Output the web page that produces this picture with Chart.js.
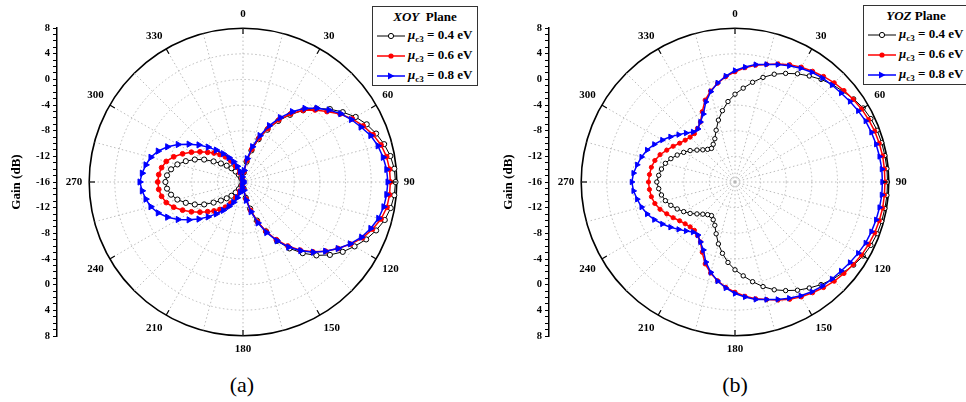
<html>
<head>
<script src="https://cdn.jsdelivr.net/npm/chart.js@4/dist/chart.umd.min.js"></script>
<style>
body { margin:0; width:966px; height:402px; overflow:hidden; background:#fff; font-family:"Liberation Serif", serif; position:relative; }
canvas { position:absolute; }
.legend { position:absolute; border:1.5px solid #333; background:#fff; font-weight:bold; font-size:13px; color:#000; box-sizing:border-box; white-space:nowrap; }
.legend .ttl { text-align:center; height:16px; line-height:16px; margin-top:2px; }
.legend .row { height:20px; line-height:20px; }
.legend svg { vertical-align:middle; margin-right:3px; }
.legend sub { font-size:9px; vertical-align:-3px; line-height:0; }
.cap { position:absolute; font-size:22px; width:60px; text-align:center; top:372px; }
</style>
</head>
<body>
<canvas id="axA" width="62" height="402" style="left:0;top:0"></canvas>
<canvas id="polA" width="400" height="349" style="left:43px;top:8px"></canvas>
<canvas id="axB" width="62" height="402" style="left:492px;top:0"></canvas>
<canvas id="polB" width="400" height="349" style="left:535px;top:8px"></canvas>

<div class="legend" style="left:372px;top:6px;width:106px;height:80px">
  <div class="ttl"><i>XOY</i>&nbsp; Plane</div>
  <div class="row" style="padding-left:4px"><svg width="28" height="10"><line x1="0" y1="5" x2="28" y2="5" stroke="#000" stroke-width="1"/><circle cx="14" cy="5" r="2.6" fill="#fff" stroke="#000" stroke-width="1"/></svg><i>μ</i><sub>c3</sub> = 0.4 eV</div>
  <div class="row" style="padding-left:4px"><svg width="28" height="10"><line x1="0" y1="5" x2="28" y2="5" stroke="#f00" stroke-width="1.5"/><circle cx="14" cy="5" r="2.6" fill="#f00"/></svg><i>μ</i><sub>c3</sub> = 0.6 eV</div>
  <div class="row" style="padding-left:4px"><svg width="28" height="10"><line x1="0" y1="5" x2="28" y2="5" stroke="#00f" stroke-width="1.5"/><polygon points="11,1.5 17.5,5 11,8.5" fill="#00f"/></svg><i>μ</i><sub>c3</sub> = 0.8 eV</div>
</div>
<div class="legend" style="left:863px;top:5px;width:106px;height:80px">
  <div class="ttl"><i>YOZ</i> Plane</div>
  <div class="row" style="padding-left:4px"><svg width="28" height="10"><line x1="0" y1="5" x2="28" y2="5" stroke="#000" stroke-width="1"/><circle cx="14" cy="5" r="2.6" fill="#fff" stroke="#000" stroke-width="1"/></svg><i>μ</i><sub>c3</sub> = 0.4 eV</div>
  <div class="row" style="padding-left:4px"><svg width="28" height="10"><line x1="0" y1="5" x2="28" y2="5" stroke="#f00" stroke-width="1.5"/><circle cx="14" cy="5" r="2.6" fill="#f00"/></svg><i>μ</i><sub>c3</sub> = 0.6 eV</div>
  <div class="row" style="padding-left:4px"><svg width="28" height="10"><line x1="0" y1="5" x2="28" y2="5" stroke="#00f" stroke-width="1.5"/><polygon points="11,1.5 17.5,5 11,8.5" fill="#00f"/></svg><i>μ</i><sub>c3</sub> = 0.8 eV</div>
</div>
<div class="cap" style="left:212px">(a)</div>
<div class="cap" style="left:705px">(b)</div>

<script>
// angles in degrees, 0 at top, clockwise, 5 deg step
var angles = [0,5,10,15,20,25,30,35,40,45,50,55,60,65,70,75,80,85,
  90,95,100,105,110,115,120,125,130,135,140,145,150,155,160,165,170,175,
  180,185,190,195,200,205,210,215,220,225,230,235,240,245,250,255,260,265,
  270,275,280,285,290,295,300,305,310,315,320,325,330,335,340,345,350,355];
var angleLabels = ['0','30','60','90','120','150','180','210','240','270','300','330'];
var gainTicks = ['8','4','0','-4','-8','-12','-16','-12','-8','-4','0','4','8'];
var seriesNames = ['0.4 eV','0.6 eV','0.8 eV'];

// (a) XOY plane, gain in dB
var xoy04 = [-16,-14.5,-12.8,-10.9,-8.9,-7.0,-5.0,-3.2,-1.4,0.2,1.7,3.0,4.3,5.3,6.1,6.8,7.35,7.7,
  7.8,7.7,7.4,6.9,6.1,5.2,4.1,3.0,1.7,0.2,-1.5,-3.35,-5.4,-7.5,-9.6,-11.7,-13.5,-15.0,
  -16,-16,-16,-16,-15.8,-15.3,-14.7,-14.0,-13.2,-12.4,-11.5,-10.4,-9.0,-7.7,-6.5,-5.4,-4.6,-4.1,
  -3.9,-4.1,-4.6,-5.4,-6.5,-7.7,-9.0,-10.4,-11.5,-12.4,-13.2,-14.0,-14.7,-15.3,-15.8,-16,-16,-16];
var xoy06 = [-16,-14.4,-12.6,-10.7,-8.7,-6.8,-4.8,-3.0,-1.4,-0.1,1.1,2.5,3.7,4.7,5.6,6.3,6.75,6.95,
  7.0,6.95,6.8,6.3,5.5,4.6,3.4,2.1,0.8,-0.6,-2.1,-3.8,-5.6,-7.5,-9.4,-11.4,-13.3,-14.9,
  -16,-16,-16,-15.4,-14.5,-13.3,-12.2,-11.2,-10.4,-9.6,-8.8,-7.8,-6.7,-5.6,-4.5,-3.6,-3.1,-2.8,
  -2.7,-2.8,-3.1,-3.6,-4.5,-5.6,-6.7,-7.8,-8.8,-9.6,-10.4,-11.2,-12.2,-13.3,-14.5,-15.4,-16,-16];
var xoy08 = [-16,-14.2,-12.3,-10.3,-8.3,-6.3,-4.4,-2.6,-1.0,0.3,1.5,2.6,3.5,4.3,5.2,5.8,6.2,6.5,
  6.6,6.5,6.3,5.9,5.2,4.4,3.3,2.1,0.8,-0.5,-2.0,-3.6,-5.4,-7.3,-9.2,-11.2,-13.1,-14.7,
  -16,-15.8,-15.2,-14.3,-13.4,-12.5,-11.6,-10.6,-9.5,-8.3,-7.0,-5.7,-4.3,-3.0,-1.9,-1.1,-0.6,-0.2,
  0.1,-0.2,-0.6,-1.1,-1.9,-3.0,-4.3,-5.7,-7.0,-8.3,-9.5,-10.6,-11.6,-12.5,-13.4,-14.3,-15.2,-15.8];

// (b) YOZ plane, gain in dB
var yoz04 = [-2.3,-1.3,-0.2,0.9,1.9,2.7,3.5,4.2,4.9,5.5,6.0,6.6,7.1,7.4,7.6,7.7,7.75,7.8,
  7.8,7.8,7.75,7.7,7.6,7.4,7.1,6.6,6.0,5.5,4.9,4.2,3.5,2.7,1.9,0.9,-0.2,-1.3,
  -2.3,-3.4,-4.7,-6.0,-7.4,-8.55,-9.2,-9.6,-9.35,-8.9,-8.25,-7.45,-6.75,-6.05,-5.35,-4.75,-4.35,-4.05,
  -3.8,-4.05,-4.35,-4.75,-5.35,-6.05,-6.75,-7.45,-8.25,-8.9,-9.35,-9.6,-9.2,-8.55,-7.4,-6.0,-4.7,-3.4];
var yoz06 = [1.2,1.9,2.5,3.0,3.6,4.2,4.7,5.1,5.5,5.9,6.2,6.5,6.8,7.0,7.2,7.3,7.4,7.4,
  7.4,7.4,7.4,7.3,7.2,7.0,6.8,6.5,6.2,5.9,5.5,5.1,4.7,4.2,3.6,3.0,2.5,1.9,
  1.2,0.5,-0.35,-1.3,-2.4,-3.9,-5.2,-5.8,-6.15,-6.1,-5.85,-5.45,-4.85,-4.25,-3.55,-3.05,-2.75,-2.6,
  -2.5,-2.6,-2.75,-3.05,-3.55,-4.25,-4.85,-5.45,-5.85,-6.1,-6.15,-5.8,-5.2,-3.9,-2.4,-1.3,-0.35,0.5];
var yoz08 = [1.4,2.0,2.6,3.0,3.5,4.0,4.5,4.9,5.2,5.4,5.6,5.9,6.2,6.5,6.65,6.8,6.9,7.0,
  7.0,7.0,6.9,6.8,6.65,6.5,6.2,5.9,5.6,5.4,5.2,4.9,4.5,4.0,3.5,3.0,2.6,2.0,
  1.4,0.6,-0.3,-1.4,-2.7,-4.3,-5.2,-5.9,-5.8,-5.2,-4.5,-3.7,-2.9,-2.1,-1.4,-0.9,-0.5,-0.1,
  0.1,-0.1,-0.5,-0.9,-1.4,-2.1,-2.9,-3.7,-4.5,-5.2,-5.8,-5.9,-5.2,-4.3,-2.7,-1.4,-0.3,0.6];

Chart.defaults.font.family = '"Liberation Serif", serif';

var dotted = [1.5, 2.5];
var gridGray = '#b4b4b4';

// short black ticks on the outer ring at every labelled angle
var ringTicks = {
  id: 'ringTicks',
  afterDatasetsDraw: function(chart) {
    var s = chart.scales.r, ctx = chart.ctx;
    ctx.save();
    ctx.strokeStyle = '#000';
    ctx.lineWidth = 1.2;
    angles.forEach(function(a, i) {
      if (angleLabels.indexOf(String(a)) < 0) return;
      var p1 = s.getPointPositionForValue(i, s.max);
      var p2 = s.getPointPositionForValue(i, s.max - 0.9);
      ctx.beginPath();
      ctx.moveTo(p1.x, p1.y);
      ctx.lineTo(p2.x, p2.y);
      ctx.stroke();
    });
    ctx.restore();
  }
};

function makeSets(vals, size) {
  return [
    {label: seriesNames[0], data: vals[0], order: 2, borderColor: '#000', borderWidth: 1,
     pointStyle: 'circle', pointRadius: size[0], pointBackgroundColor: '#fff', pointBorderColor: '#000', pointBorderWidth: 1},
    {label: seriesNames[1], data: vals[1], order: 1, borderColor: '#f00', borderWidth: 1.5,
     pointStyle: 'circle', pointRadius: size[1], pointBackgroundColor: '#f00', pointBorderColor: '#f00', pointBorderWidth: 1},
    {label: seriesNames[2], data: vals[2], order: 0, borderColor: '#00f', borderWidth: 1.5,
     pointStyle: 'triangle', pointRotation: 90, pointRadius: size[2], pointBackgroundColor: '#00f', pointBorderColor: '#00f', pointBorderWidth: 1}
  ];
}

function polar(id, vals, size) {
  new Chart(document.getElementById(id), {
    type: 'radar',
    data: {labels: angles, datasets: makeSets(vals, size)},
    plugins: [ringTicks],
    options: {
      responsive: false, animation: false, events: [],
      layout: {padding: 0},
      elements: {line: {fill: false, tension: 0}},
      plugins: {legend: {display: false}, tooltip: {enabled: false}},
      scales: {
        r: {
          min: -16, max: 8,
          ticks: {display: false, stepSize: 4},
          grid: {
            circular: true,
            color: function(c) { return c.tick.value === 8 ? '#000' : gridGray; },
            lineWidth: function(c) { return c.tick.value === 8 ? 1.6 : 0.9; }
          },
          border: {dash: function(c) { return (c.tick && c.tick.value === 8) ? [] : dotted; }},
          angleLines: {
            color: gridGray,
            lineWidth: function(c) { return c.index % 3 === 0 ? 0.9 : 0; },
            borderDash: dotted
          },
          pointLabels: {
            padding: 7, color: '#000',
            font: {size: 11, weight: 'bold'},
            callback: function(lab) { return angleLabels.indexOf(String(lab)) >= 0 ? String(lab) : ''; }
          }
        }
      }
    }
  });
}

function gainAxis(id) {
  new Chart(document.getElementById(id), {
    type: 'scatter',
    data: {datasets: []},
    options: {
      responsive: false, animation: false, events: [],
      layout: {padding: {top: 28, bottom: 66, left: 0, right: 0}},
      plugins: {legend: {display: false}, tooltip: {enabled: false}},
      scales: {
        x: {display: false},
        y: {
          min: -24, max: 24, position: 'left',
          afterFit: function(s) { s.width = 57; },
          ticks: {
            stepSize: 1, autoSkip: false, padding: 3, color: '#000',
            font: {size: 10.5, weight: 'bold'},
            callback: function(v) { return v % 4 === 0 ? gainTicks[(24 - v) / 4] : ''; }
          },
          grid: {drawOnChartArea: false, tickLength: 4, tickColor: '#000', tickWidth: 1},
          border: {color: '#000', width: 1.5},
          title: {display: true, text: 'Gain (dB)', color: '#000', font: {size: 13, weight: 'bold'}, padding: {top: 9, bottom: 0}}
        }
      }
    }
  });
}

gainAxis('axA');
gainAxis('axB');
polar('polA', [xoy04, xoy06, xoy08], [2.6, 2.4, 3.6]);
polar('polB', [yoz04, yoz06, yoz08], [2.2, 2.1, 3.1]);
</script>
</body>
</html>
